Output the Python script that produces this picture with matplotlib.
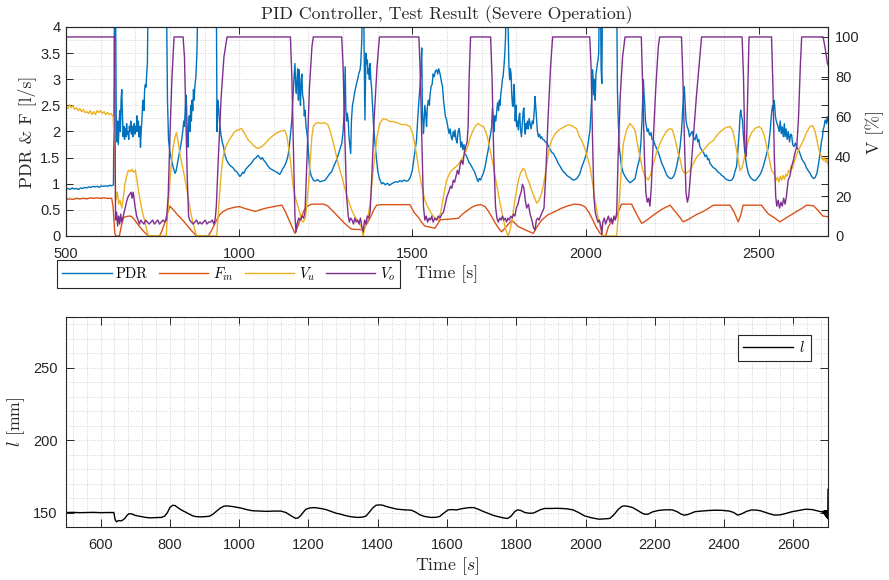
import matplotlib
matplotlib.use("Agg")
import matplotlib.pyplot as plt
from matplotlib.ticker import MultipleLocator
import numpy as np

plt.rcParams['font.family'] = ['Liberation Sans', 'DejaVu Sans']
plt.rcParams['mathtext.fontset'] = 'cm'

# ---- top panel data ----
# PDR [l/s]  (values above 4 are off the chart)
pdr_t = [500, 506, 512, 518, 524, 530, 536, 542, 548, 554, 560, 566, 572, 578, 584, 590, 596, 602, 608, 614,
         620, 626, 632, 637, 639, 640, 643, 645, 647, 649, 651, 653, 655, 657, 659, 661, 663, 665, 667, 669,
         671, 673, 675, 677, 679, 681, 683, 685, 687, 689, 691, 693, 695, 697, 699, 701, 703, 705, 707, 709,
         711, 713, 715, 717, 719, 721, 723, 725, 727, 729, 731, 733, 735, 737, 790, 793, 796, 800, 805, 810,
         815, 818, 822, 826, 830, 834, 837, 840, 842, 844, 846, 848, 850, 852, 854, 856, 858, 860, 862, 864,
         866, 868, 870, 872, 875, 878, 881, 934, 936, 938, 940, 943, 947, 951, 955, 959, 964, 968, 972, 978,
         983, 988, 993, 998, 1002, 1006, 1010, 1014, 1018, 1022, 1026, 1030, 1034, 1038, 1041, 1045, 1049, 1052, 1055, 1059,
         1063, 1067, 1071, 1075, 1079, 1084, 1088, 1092, 1098, 1103, 1108, 1113, 1117, 1121, 1125, 1130, 1135, 1139, 1142, 1146,
         1149, 1152, 1155, 1158, 1161, 1163, 1165, 1167, 1169, 1171, 1173, 1175, 1177, 1179, 1181, 1183, 1186, 1188, 1190, 1193,
         1197, 1200, 1204, 1208, 1214, 1220, 1226, 1233, 1240, 1248, 1254, 1260, 1267, 1274, 1281, 1288, 1296, 1300, 1303, 1306,
         1308, 1310, 1312, 1315, 1317, 1320, 1322, 1324, 1327, 1330, 1332, 1335, 1339, 1342, 1345, 1349, 1351, 1354, 1356, 1359,
         1361, 1363, 1365, 1366, 1368, 1370, 1372, 1374, 1376, 1378, 1380, 1382, 1385, 1388, 1392, 1396, 1400, 1404, 1408, 1411,
         1416, 1422, 1428, 1434, 1440, 1446, 1452, 1458, 1464, 1470, 1476, 1482, 1488, 1494, 1500, 1505, 1509, 1512, 1516, 1519,
         1522, 1524, 1527, 1529, 1532, 1534, 1536, 1539, 1541, 1543, 1546, 1549, 1551, 1554, 1557, 1560, 1563, 1566, 1570, 1573,
         1576, 1580, 1584, 1587, 1590, 1592, 1595, 1599, 1602, 1606, 1609, 1612, 1615, 1618, 1621, 1623, 1626, 1629, 1632, 1635,
         1637, 1640, 1643, 1646, 1649, 1652, 1655, 1658, 1661, 1664, 1667, 1671, 1675, 1678, 1681, 1685, 1688, 1690, 1693, 1697,
         1701, 1705, 1710, 1714, 1719, 1723, 1727, 1729, 1731, 1734, 1736, 1738, 1741, 1743, 1746, 1749, 1751, 1753, 1755, 1758,
         1760, 1762, 1765, 1767, 1769, 1771, 1775, 1777, 1779, 1781, 1783, 1785, 1787, 1789, 1791, 1793, 1795, 1797, 1799, 1801,
         1803, 1806, 1808, 1810, 1812, 1815, 1818, 1820, 1822, 1824, 1826, 1828, 1830, 1832, 1835, 1837, 1840, 1843, 1846, 1849,
         1852, 1854, 1856, 1858, 1861, 1864, 1867, 1870, 1873, 1876, 1880, 1884, 1888, 1893, 1898, 1903, 1907, 1912, 1916, 1921,
         1926, 1931, 1936, 1941, 1946, 1950, 1955, 1960, 1965, 1970, 1975, 1979, 1984, 1988, 1993, 1998, 2003, 2007, 2010, 2013,
         2015, 2017, 2019, 2020, 2022, 2024, 2026, 2028, 2030, 2032, 2034, 2036, 2038, 2040, 2043, 2045, 2047, 2049, 2090, 2092,
         2094, 2097, 2100, 2104, 2108, 2114, 2120, 2128, 2135, 2143, 2149, 2155, 2160, 2163, 2165, 2167, 2169, 2171, 2173, 2176,
         2178, 2181, 2184, 2186, 2189, 2192, 2196, 2200, 2205, 2210, 2215, 2220, 2225, 2230, 2234, 2240, 2245, 2249, 2254, 2258,
         2263, 2268, 2273, 2277, 2280, 2282, 2285, 2287, 2290, 2293, 2297, 2300, 2304, 2308, 2312, 2316, 2320, 2324, 2327, 2330,
         2334, 2338, 2342, 2345, 2349, 2353, 2356, 2359, 2363, 2367, 2371, 2374, 2378, 2383, 2388, 2393, 2398, 2403, 2407, 2412,
         2417, 2422, 2427, 2432, 2436, 2440, 2444, 2446, 2448, 2450, 2453, 2456, 2460, 2465, 2470, 2476, 2484, 2490, 2499, 2506,
         2513, 2520, 2528, 2533, 2537, 2540, 2542, 2544, 2546, 2548, 2550, 2553, 2556, 2559, 2562, 2565, 2568, 2571, 2574, 2576,
         2579, 2582, 2585, 2589, 2592, 2595, 2598, 2602, 2606, 2610, 2614, 2619, 2624, 2629, 2633, 2638, 2643, 2648, 2653, 2658,
         2663, 2668, 2672, 2677, 2681, 2684, 2686, 2689, 2691, 2693, 2696, 2698, 2700]
pdr_v = [0.90, 0.91, 0.89, 0.92, 0.90, 0.91, 0.89, 0.92, 0.91, 0.93, 0.92, 0.94, 0.93, 0.95, 0.94, 0.95, 0.93, 0.96, 0.95, 0.96,
         0.95, 0.97, 0.96, 0.98, 3.0, 4.6, 4.6, 2.3, 1.8, 2.2, 1.75, 2.1, 2.4, 2.0, 2.6, 2.8, 2.3, 1.9, 2.1, 1.85,
         2.05, 1.9, 2.15, 1.95, 2.0, 1.85, 2.1, 2.0, 2.2, 1.95, 2.1, 1.9, 2.0, 2.15, 1.95, 2.1, 2.0, 2.3, 2.0, 2.2,
         1.9, 2.1, 1.7, 2.0, 2.2, 2.5, 2.6, 2.4, 2.8, 2.9, 2.85, 3.1, 3.3, 4.6, 4.6, 2.6, 1.84, 1.6, 1.45, 1.3,
         1.2, 1.25, 1.4, 1.55, 1.7, 1.84, 2.0, 2.2, 2.1, 2.4, 2.7, 2.5, 2.0, 1.7, 2.1, 2.3, 2.0, 2.5, 2.2, 2.6,
         2.4, 2.8, 2.6, 2.86, 3.05, 3.5, 4.6, 4.6, 2.0, 2.6, 2.5, 2.2, 1.95, 1.8, 1.7, 1.55, 1.45, 1.4, 1.36, 1.33,
         1.3, 1.25, 1.23, 1.18, 1.14, 1.17, 1.22, 1.2, 1.27, 1.3, 1.33, 1.36, 1.38, 1.42, 1.45, 1.48, 1.5, 1.53, 1.54, 1.5,
         1.47, 1.5, 1.45, 1.42, 1.38, 1.33, 1.3, 1.28, 1.26, 1.24, 1.22, 1.2, 1.18, 1.22, 1.28, 1.33, 1.4, 1.48, 1.58, 1.8,
         2.0, 2.22, 2.6, 3.0, 3.3, 2.9, 2.73, 3.0, 3.2, 2.6, 3.18, 2.8, 2.5, 3.0, 3.1, 2.7, 2.6, 2.3, 2.41, 2.1,
         1.9, 1.6, 1.26, 1.15, 1.07, 1.05, 1.08, 1.04, 1.05, 1.07, 1.12, 1.18, 1.23, 1.35, 1.45, 1.6, 1.77, 2.0, 2.35, 3.24,
         2.4, 2.2, 2.35, 2.2, 1.9, 1.71, 1.58, 2.2, 2.5, 2.6, 2.7, 2.8, 2.92, 3.0, 3.1, 3.18, 3.3, 3.75, 4.6, 4.6,
         3.4, 2.22, 3.0, 3.5, 3.3, 3.37, 3.1, 3.2, 3.0, 3.3, 3.0, 2.86, 2.5, 2.1, 1.77, 1.5, 1.25, 1.12, 1.05, 1.0,
         1.02, 0.98, 1.01, 0.97, 1.0, 1.02, 1.04, 1.03, 1.06, 1.04, 1.07, 1.05, 1.06, 1.12, 1.26, 1.5, 1.7, 1.84, 2.3, 2.6,
         2.86, 3.1, 3.6, 2.4, 1.96, 2.2, 2.5, 2.3, 2.1, 2.45, 2.6, 2.5, 2.7, 2.86, 2.9, 3.1, 3.05, 3.15, 3.18, 3.1,
         3.2, 3.1, 2.95, 2.86, 2.6, 2.48, 2.3, 2.22, 2.1, 1.96, 2.05, 1.9, 1.84, 2.0, 1.9, 2.03, 1.85, 1.78, 2.0, 2.06,
         1.95, 1.7, 1.8, 1.65, 1.75, 1.58, 1.55, 1.5, 1.45, 1.4, 1.38, 1.33, 1.28, 1.25, 1.2, 1.12, 1.07, 1.04, 1.1, 1.07,
         1.14, 1.2, 1.33, 1.48, 1.65, 1.85, 2.0, 2.09, 2.45, 2.2, 2.0, 2.3, 2.2, 2.35, 2.55, 2.4, 2.6, 2.5, 2.7, 2.86,
         3.0, 3.05, 3.3, 3.5, 3.8, 4.6, 4.6, 3.8, 3.2, 2.99, 3.2, 3.1, 2.7, 2.5, 2.48, 2.9, 2.7, 2.2, 2.5, 2.1,
         2.2, 2.03, 2.3, 2.35, 2.05, 1.9, 2.2, 2.4, 2.45, 2.1, 1.95, 2.15, 2.05, 2.2, 2.05, 2.25, 2.15, 2.05, 2.2, 2.15,
         2.4, 2.67, 2.5, 2.3, 2.0, 1.9, 1.95, 1.87, 1.9, 1.85, 1.84, 1.8, 1.78, 1.72, 1.65, 1.6, 1.58, 1.52, 1.47, 1.39,
         1.34, 1.28, 1.23, 1.2, 1.16, 1.14, 1.12, 1.09, 1.07, 1.08, 1.1, 1.14, 1.2, 1.3, 1.39, 1.48, 1.58, 1.75, 1.9, 2.03,
         2.3, 2.54, 2.8, 3.18, 2.99, 2.7, 3.0, 2.6, 3.1, 3.18, 3.3, 3.37, 3.5, 4.6, 4.6, 3.2, 2.92, 4.6, 4.6, 2.8,
         2.3, 1.71, 1.55, 1.33, 1.22, 1.14, 1.08, 1.02, 1.05, 1.1, 1.3, 1.45, 1.8, 2.22, 2.6, 2.99, 2.7, 2.5, 2.2, 2.09,
         2.0, 2.05, 1.95, 1.93, 1.98, 1.85, 1.84, 1.75, 1.68, 1.6, 1.5, 1.39, 1.32, 1.24, 1.17, 1.12, 1.1, 1.1, 1.14, 1.2,
         1.33, 1.5, 1.71, 2.0, 2.35, 2.6, 2.86, 2.6, 2.22, 2.1, 2.03, 1.9, 1.96, 2.0, 1.88, 1.84, 1.95, 1.8, 1.85, 1.71,
         1.66, 1.62, 1.58, 1.52, 1.55, 1.46, 1.48, 1.39, 1.36, 1.32, 1.3, 1.29, 1.26, 1.22, 1.2, 1.16, 1.14, 1.1, 1.08, 1.07,
         1.06, 1.07, 1.12, 1.25, 1.33, 1.65, 2.03, 2.3, 2.41, 2.3, 2.22, 1.9, 1.58, 1.35, 1.2, 1.12, 1.07, 1.06, 1.13, 1.2,
         1.33, 1.5, 1.71, 2.0, 2.35, 2.5, 2.4, 2.6, 2.5, 2.3, 2.22, 2.15, 2.09, 2.0, 2.2, 1.96, 2.09, 1.9, 2.15, 1.9,
         2.05, 1.85, 2.0, 1.8, 1.95, 1.93, 1.75, 1.71, 1.78, 1.7, 1.66, 1.58, 1.48, 1.42, 1.39, 1.3, 1.25, 1.2, 1.14, 1.1,
         1.12, 1.2, 1.35, 1.58, 1.8, 1.9, 2.03, 2.1, 2.2, 2.22, 2.15, 2.28, 2.2]

# inlet flow F_in [l/s]
fin_t = [500, 510, 520, 530, 540, 550, 560, 570, 580, 590, 600, 610, 620, 632, 636, 639, 641, 644, 654, 660,
         666, 673, 680, 687, 693, 700, 708, 716, 724, 733, 740, 770, 777, 785, 792, 800, 810, 820, 830, 840,
         850, 860, 870, 877, 911, 918, 925, 935, 945, 954, 965, 980, 995, 1002, 1015, 1030, 1046, 1060, 1075, 1090,
         1105, 1123, 1133, 1143, 1153, 1161, 1170, 1180, 1188, 1195, 1205, 1214, 1243, 1255, 1267, 1277, 1286, 1296, 1305, 1315,
         1325, 1358, 1370, 1382, 1390, 1397, 1410, 1493, 1505, 1517, 1527, 1536, 1565, 1575, 1580, 1600, 1620, 1633, 1645, 1661,
         1674, 1686, 1698, 1710, 1720, 1729, 1740, 1750, 1758, 1770, 1787, 1797, 1806, 1825, 1849, 1860, 1873, 1890, 1912, 1930,
         1950, 1969, 1985, 1998, 2010, 2020, 2030, 2042, 2052, 2058, 2066, 2078, 2090, 2097, 2104, 2133, 2145, 2162, 2180, 2200,
         2220, 2244, 2255, 2265, 2282, 2300, 2320, 2340, 2355, 2369, 2417, 2428, 2441, 2448, 2455, 2508, 2518, 2528, 2545, 2561,
         2580, 2595, 2609, 2625, 2638, 2658, 2670, 2680, 2686, 2700]
fin_v = [0.70, 0.71, 0.70, 0.72, 0.71, 0.72, 0.71, 0.73, 0.72, 0.73, 0.72, 0.73, 0.72, 0.72, 0.55, 0.25, 0.05, 0.0, 0.0, 0.2,
         0.35, 0.37, 0.38, 0.38, 0.35, 0.29, 0.22, 0.15, 0.09, 0.03, 0.0, 0.0, 0.1, 0.25, 0.42, 0.57, 0.5, 0.42, 0.35, 0.28,
         0.2, 0.12, 0.05, 0.0, 0.0, 0.08, 0.17, 0.31, 0.42, 0.47, 0.51, 0.54, 0.56, 0.56, 0.53, 0.5, 0.47, 0.5, 0.53, 0.55,
         0.57, 0.59, 0.47, 0.32, 0.17, 0.05, 0.2, 0.38, 0.5, 0.56, 0.6, 0.61, 0.61, 0.58, 0.5, 0.43, 0.37, 0.3, 0.24, 0.18,
         0.13, 0.12, 0.25, 0.4, 0.52, 0.59, 0.6, 0.6, 0.45, 0.36, 0.26, 0.19, 0.15, 0.25, 0.31, 0.32, 0.33, 0.34, 0.42, 0.5,
         0.56, 0.59, 0.6, 0.56, 0.47, 0.37, 0.24, 0.14, 0.08, 0.17, 0.3, 0.24, 0.18, 0.12, 0.05, 0.18, 0.3, 0.4, 0.47, 0.53,
         0.58, 0.61, 0.6, 0.56, 0.45, 0.32, 0.18, 0.05, 0.0, 0.0, 0.18, 0.3, 0.37, 0.5, 0.61, 0.61, 0.45, 0.24, 0.32, 0.42,
         0.51, 0.59, 0.5, 0.42, 0.27, 0.33, 0.41, 0.47, 0.53, 0.59, 0.59, 0.47, 0.27, 0.4, 0.59, 0.59, 0.5, 0.42, 0.35, 0.27,
         0.35, 0.41, 0.47, 0.53, 0.59, 0.58, 0.5, 0.42, 0.38, 0.37]

# lower valve V_u [%]
vu_t = [500, 505, 510, 515, 520, 525, 530, 535, 540, 545, 550, 555, 560, 565, 570, 575, 580, 585, 590, 595,
        600, 605, 610, 615, 620, 625, 630, 636, 640, 644, 648, 652, 656, 661, 666, 670, 675, 680, 685, 690,
        695, 700, 705, 710, 716, 722, 728, 733, 738, 789, 795, 801, 808, 815, 819, 824, 830, 836, 842, 848,
        854, 860, 866, 872, 877, 935, 940, 945, 950, 955, 962, 970, 978, 985, 992, 1000, 1007, 1014, 1020, 1027,
        1034, 1041, 1048, 1055, 1060, 1066, 1072, 1080, 1088, 1095, 1102, 1110, 1118, 1125, 1132, 1138, 1143, 1148, 1152, 1156,
        1161, 1166, 1171, 1176, 1180, 1184, 1188, 1192, 1196, 1200, 1205, 1210, 1214, 1220, 1228, 1236, 1244, 1250, 1256, 1262,
        1270, 1277, 1286, 1296, 1305, 1315, 1325, 1334, 1344, 1352, 1356, 1358, 1361, 1365, 1372, 1378, 1385, 1392, 1398, 1406,
        1416, 1425, 1435, 1445, 1455, 1469, 1480, 1493, 1500, 1506, 1512, 1517, 1526, 1536, 1546, 1556, 1565, 1575, 1582, 1590,
        1599, 1606, 1613, 1620, 1627, 1633, 1640, 1646, 1652, 1660, 1667, 1675, 1683, 1690, 1698, 1705, 1712, 1719, 1727, 1734,
        1741, 1748, 1756, 1763, 1770, 1777, 1782, 1788, 1795, 1801, 1806, 1813, 1820, 1825, 1830, 1837, 1844, 1851, 1859, 1866,
        1873, 1880, 1888, 1895, 1902, 1911, 1921, 1930, 1940, 1950, 1960, 1968, 1974, 1982, 1989, 1998, 2008, 2013, 2020, 2027,
        2034, 2042, 2051, 2090, 2095, 2100, 2105, 2109, 2118, 2128, 2136, 2143, 2150, 2157, 2165, 2172, 2177, 2181, 2188, 2196,
        2205, 2215, 2225, 2235, 2244, 2250, 2255, 2262, 2268, 2273, 2280, 2287, 2294, 2302, 2310, 2321, 2333, 2345, 2357, 2369,
        2381, 2393, 2405, 2417, 2425, 2431, 2438, 2446, 2451, 2455, 2462, 2470, 2480, 2489, 2500, 2508, 2515, 2523, 2530, 2537,
        2545, 2550, 2554, 2558, 2562, 2566, 2570, 2574, 2578, 2582, 2586, 2590, 2594, 2598, 2602, 2605, 2612, 2620, 2629, 2638,
        2648, 2655, 2662, 2668, 2673, 2677, 2681, 2686, 2690, 2693, 2696, 2700]
vu_v = [65, 64, 66, 64.5, 65.5, 63.5, 64.5, 63, 64, 62.5, 63.5, 62, 62.5, 61.5, 63, 61, 62.5, 61, 63, 62,
        63, 61.5, 62.5, 61, 62, 61, 61.5, 60, 45, 18, 22, 16, 18, 14, 20, 26, 30, 33, 32.5, 33.5,
        32, 33, 28, 22, 16, 11, 7, 3, 0, 0, 15, 30, 43, 50, 52, 47, 40, 35, 30, 24,
        18, 12, 7, 3, 0, 0, 12, 25, 35, 41, 45, 48, 50, 52, 53, 53.5, 54, 52, 50, 48,
        47, 45.5, 44.5, 44, 44.5, 45, 46, 47.5, 49, 50, 51, 52, 52.5, 53, 53, 50, 44, 38, 31, 25,
        20, 17, 14, 11, 8, 7, 8, 10, 18, 25, 38, 50, 55, 56.5, 57, 56.5, 57, 56.5, 56, 53,
        48, 43, 36, 30, 24, 18, 13, 9.7, 7, 4.7, 2, 0, 3, 6, 10, 16, 30, 41, 50, 56.5,
        59, 58.5, 57.5, 57.5, 57, 56, 56, 55, 52, 47, 41, 35, 26, 18, 14, 11, 9, 8, 12, 20,
        28, 31, 33, 34, 35, 36, 38, 39.5, 41.5, 45, 49.5, 53, 55.5, 56.5, 55.5, 55, 52.5, 48, 41, 35,
        28, 21.4, 14, 8, 3, 0, 3, 8, 17, 23, 28, 32, 34, 33, 29.8, 27, 23, 20, 16.5, 18,
        21.4, 27, 36, 44, 48, 51, 53, 54, 55, 55.8, 55.5, 54.5, 54, 50, 48, 44, 38, 34.8, 27, 18,
        11, 4.7, 0, 0, 12, 25, 38, 46.5, 53, 56.5, 55, 53, 46, 40, 33, 29.8, 29, 28, 31, 36.5,
        42, 46.5, 50, 53, 54, 53.5, 51, 46, 41, 38.5, 33, 31.5, 32, 33, 36, 39.7, 42, 44, 46.5, 48,
        51, 53, 54.5, 55, 53, 48, 41, 33, 34, 36.5, 42, 48, 52, 54, 55, 54, 51, 45, 39, 33,
        31, 28, 29.5, 27, 30, 28, 30.5, 28.5, 31, 30, 33, 32, 35, 34, 37, 38.5, 42, 45, 48, 52,
        55, 55.5, 53, 48, 44, 41.5, 40, 38, 39.5, 37, 38.5, 36]

# upper valve V_o [%]
vo_t = [500, 640, 643, 646, 649, 652, 655, 658, 661, 664, 668, 672, 676, 680, 684, 688, 691, 694, 697, 700,
        704, 708, 712, 716, 720, 725, 730, 735, 740, 745, 750, 755, 760, 765, 770, 775, 780, 785, 790, 795,
        800, 806, 812, 838, 842, 846, 850, 854, 857, 862, 867, 872, 877, 882, 887, 892, 897, 902, 907, 912,
        917, 922, 927, 931, 934, 940, 948, 956, 965, 1148, 1152, 1157, 1161, 1164, 1167, 1172, 1177, 1182, 1186, 1190,
        1196, 1203, 1210, 1214, 1296, 1300, 1305, 1310, 1315, 1318, 1322, 1326, 1330, 1334, 1338, 1342, 1346, 1350, 1354, 1358,
        1362, 1366, 1370, 1374, 1378, 1383, 1390, 1398, 1405, 1519, 1523, 1528, 1532, 1536, 1540, 1544, 1548, 1552, 1556, 1560,
        1565, 1570, 1575, 1580, 1585, 1590, 1595, 1600, 1605, 1610, 1614, 1618, 1622, 1626, 1630, 1634, 1638, 1642, 1646, 1650,
        1654, 1658, 1661, 1664, 1668, 1726, 1730, 1735, 1740, 1744, 1748, 1752, 1756, 1760, 1764, 1768, 1772, 1776, 1780, 1784,
        1788, 1792, 1796, 1800, 1805, 1810, 1814, 1818, 1822, 1826, 1830, 1835, 1840, 1845, 1850, 1854, 1858, 1862, 1866, 1870,
        1875, 1880, 1885, 1892, 1899, 1905, 2012, 2016, 2020, 2024, 2028, 2032, 2036, 2040, 2044, 2047, 2050, 2054, 2058, 2062,
        2066, 2070, 2074, 2078, 2082, 2086, 2090, 2094, 2100, 2107, 2114, 2161, 2165, 2170, 2174, 2178, 2182, 2186, 2190, 2196,
        2203, 2210, 2214, 2277, 2281, 2286, 2290, 2294, 2298, 2305, 2320, 2335, 2452, 2456, 2460, 2464, 2468, 2472, 2537, 2541,
        2545, 2549, 2552, 2556, 2560, 2564, 2568, 2572, 2576, 2580, 2585, 2590, 2595, 2600, 2605, 2610, 2615, 2620, 2624, 2686,
        2690, 2694, 2698, 2700]
vo_v = [100, 100, 8, 12, 5, 10, 6, 11, 7, 9, 12, 15, 18, 20, 21, 22, 19, 22, 18, 14,
        10, 8, 6, 8, 7, 6, 8, 7, 6, 7, 8, 6, 7, 8, 6, 7, 8, 7, 8, 20,
        50, 80, 100, 100, 90, 60, 30, 10, 8, 7, 6, 7, 8, 6, 7, 6, 7, 8, 6, 7,
        7, 8, 6, 9, 15, 40, 70, 90, 100, 100, 80, 40, 10, 2, 6, 9, 8, 10, 9, 12,
        40, 75, 95, 100, 100, 85, 50, 20, 10, 7, 9, 8, 6, 9, 7, 8, 6, 9, 5, 2,
        8, 6, 10, 9, 12, 30, 60, 85, 100, 100, 80, 45, 15, 8, 10, 7, 9, 8, 10, 7,
        9, 8, 10, 9, 11, 12, 16, 20, 22, 25, 24, 28, 27, 30, 33, 31, 36, 38, 36, 42,
        45, 47, 55, 80, 100, 100, 80, 40, 15, 9, 7, 9, 8, 10, 8, 9, 7, 9, 8, 10,
        9, 11, 10, 14, 16, 20, 22, 26, 24, 18, 14, 16, 11, 8, 4, 3, 8, 9, 8, 10,
        12, 14, 30, 60, 85, 100, 100, 85, 50, 20, 12, 9, 7, 8, 5, 1, 7, 9, 6, 8,
        10, 7, 9, 6, 10, 8, 12, 40, 70, 90, 100, 100, 75, 40, 22, 17, 19, 15, 25, 50,
        75, 95, 100, 100, 80, 45, 22, 17, 20, 35, 70, 100, 100, 80, 45, 40, 70, 100, 100, 75,
        40, 20, 15, 18, 14, 17, 15, 19, 16, 20, 28, 30, 35, 38, 42, 45, 60, 85, 100, 100,
        96, 92, 87, 86]

# ---- bottom panel data: level l [mm] ----
l_t = [500, 520, 540, 560, 580, 600, 620, 638, 642, 646, 652, 658, 664, 670, 676, 682, 690, 700, 715, 730,
       745, 760, 775, 785, 793, 800, 808, 815, 825, 835, 845, 855, 865, 874, 890, 905, 915, 925, 935, 945,
       955, 964, 975, 985, 997, 1010, 1025, 1040, 1060, 1080, 1100, 1120, 1135, 1145, 1155, 1163, 1170, 1178, 1186, 1193,
       1205, 1218, 1235, 1251, 1265, 1280, 1292, 1305, 1320, 1341, 1355, 1366, 1375, 1385, 1395, 1405, 1415, 1423, 1435, 1456,
       1475, 1497, 1510, 1521, 1535, 1554, 1568, 1579, 1590, 1603, 1615, 1628, 1640, 1652, 1665, 1677, 1690, 1702, 1718, 1734,
       1750, 1765, 1775, 1785, 1795, 1803, 1812, 1825, 1837, 1849, 1860, 1870, 1882, 1900, 1915, 1931, 1948, 1964, 1980, 1997,
       2015, 2038, 2055, 2070, 2082, 2095, 2105, 2111, 2122, 2136, 2150, 2160, 2169, 2180, 2193, 2210, 2226, 2240, 2251, 2265,
       2275, 2284, 2295, 2305, 2316, 2335, 2355, 2374, 2395, 2415, 2428, 2439, 2450, 2465, 2480, 2495, 2505, 2520, 2533, 2546,
       2562, 2579, 2595, 2615, 2636, 2655, 2669, 2680, 2684, 2686, 2688, 2689, 2690, 2691, 2692, 2693, 2694, 2695, 2696, 2697,
       2698, 2699, 2699.5, 2700]
l_v = [150, 150.1, 149.9, 150, 150.1, 149.9, 150, 150, 145, 143.6, 144.5, 144.2, 144.8, 146, 148, 149.2, 149, 148, 147.3, 146.6,
       146.3, 146.5, 146.6, 147.5, 150, 153.5, 155, 154.8, 153, 151.5, 150.3, 149, 147.8, 147.2, 147, 147.2, 147.5, 149, 151, 153,
       154.3, 154.6, 154.3, 154, 153.4, 152.8, 151.8, 151.2, 151, 150.8, 151, 151, 150, 148.5, 147, 146, 146.2, 148, 150.5, 152.3,
       153.2, 153.4, 152.8, 152, 150.8, 149.5, 148.9, 148, 147.2, 146.6, 146.8, 147.5, 150, 153, 155, 155.3, 155, 154.3, 153.5, 152.3,
       151.9, 151.6, 150.2, 148.5, 147.3, 146.6, 146.7, 147.3, 149.5, 151.8, 152, 151.8, 152.5, 153, 153.4, 153.4, 152.3, 151, 149.5, 148,
       147, 146.2, 145.9, 147.5, 150.5, 151.8, 151.5, 150, 149.5, 149.6, 150.8, 152, 152.8, 152.8, 152.9, 152.8, 152.5, 151.8, 150, 147.7,
       146.5, 145.4, 145.6, 145.9, 148.5, 152.3, 154.2, 154.6, 154.3, 153.4, 151.5, 150, 148.9, 148.8, 150.4, 151.4, 151.8, 151.9, 151.8, 150.5,
       149, 148.2, 148.6, 149.5, 150.6, 151, 151.4, 151.6, 151.5, 151, 150, 148.2, 149, 150.8, 151.8, 151.6, 151.2, 150, 149, 148.2,
       148.4, 149.4, 150.5, 151.4, 152.3, 152, 151.2, 150.5, 150.8, 149.8, 151.0, 149.0, 151.2, 148.5, 151.3, 147.8, 151.2, 147.2, 151, 146.5,
       150.5, 145.8, 150, 166]

c_pdr = '#0072BD'
c_fin = '#D95319'
c_vu = '#EDB120'
c_vo = '#7E2F8E'
axcol = '#262626'
gridcol = '#d2d2d2'
serif = 'cmr10'
lab_fs = 12.8

fig = plt.figure(figsize=(8.89, 5.8), dpi=100)
ax1 = fig.add_axes([66/889, 1-236/580, 762/889, 209/580])
ax2 = ax1.twinx()

h1, = ax1.plot(pdr_t, pdr_v, color=c_pdr, lw=1.0, label='PDR')
h2, = ax1.plot(fin_t, fin_v, color=c_fin, lw=1.0, label=r'$F_{in}$')
h3, = ax2.plot(vu_t, vu_v, color=c_vu, lw=1.0, label=r'$V_u$')
h4, = ax2.plot(vo_t, vo_v, color=c_vo, lw=1.0, label=r'$V_o$')

ax1.set_xlim(500, 2700)
ax1.set_ylim(0, 4)
ax2.set_ylim(0, 105)
ax1.xaxis.set_major_locator(MultipleLocator(500))
ax1.xaxis.set_minor_locator(MultipleLocator(100))
ax1.yaxis.set_minor_locator(MultipleLocator(0.25))
ax2.yaxis.set_major_locator(MultipleLocator(20))
ax1.set_yticks([0, 0.5, 1, 1.5, 2, 2.5, 3, 3.5, 4])
ax1.set_yticklabels(['0', '0.5', '1', '1.5', '2', '2.5', '3', '3.5', '4'])
ax1.grid(which='both', linestyle=':', color=gridcol, linewidth=0.7)
ax1.tick_params(which='major', direction='in', top=True, right=True, length=5, width=0.7,
                colors=axcol, labelsize=10.5, pad=4)
ax1.tick_params(axis='x', pad=8)
ax1.tick_params(which='minor', length=0)
ax2.tick_params(which='major', direction='in', length=5, width=0.7, colors=axcol, labelsize=10.5, pad=5)
for ax in (ax1, ax2):
    for s in ax.spines.values():
        s.set_color(axcol)
        s.set_linewidth(0.8)

ax1.set_title('PID Controller, Test Result (Severe Operation)', fontsize=lab_fs, pad=6,
              color=axcol, family=serif)
ax1.set_ylabel('PDR & F [l/s]', fontsize=lab_fs, color=axcol, family=serif, labelpad=3)
ax2.set_ylabel('V [%]', fontsize=lab_fs, color=axcol, family=serif)
ax1.set_xlabel('Time [s]', fontsize=lab_fs, color=axcol, family=serif, labelpad=3)
leg = ax1.legend([h1, h2, h3, h4], [h.get_label() for h in (h1, h2, h3, h4)],
                 loc='upper left', bbox_to_anchor=(-0.012, -0.115), ncol=4,
                 prop={'family': serif, 'size': 10.5},
                 handlelength=3.4, columnspacing=0.75, handletextpad=0.3, borderpad=0.35,
                 borderaxespad=0, fancybox=False, edgecolor=axcol, framealpha=1)
leg.get_frame().set_linewidth(0.8)

# ---- bottom panel ----
ax3 = fig.add_axes([66/889, 1-527/580, 762/889, 210/580])
ax3.plot(l_t, l_v, color='black', lw=1.0, label=r'$l$')
ax3.set_xlim(500, 2700)
ax3.set_ylim(140, 285)
ax3.xaxis.set_major_locator(MultipleLocator(200))
ax3.xaxis.set_minor_locator(MultipleLocator(40))
ax3.yaxis.set_major_locator(MultipleLocator(50))
ax3.yaxis.set_minor_locator(MultipleLocator(10))
ax3.grid(which='both', linestyle=':', color=gridcol, linewidth=0.7)
ax3.tick_params(which='major', direction='in', top=True, right=True, length=6, width=0.7,
                colors=axcol, labelsize=10.5, pad=6)
ax3.tick_params(axis='x', pad=8)
ax3.tick_params(which='minor', length=0)
for s in ax3.spines.values():
    s.set_color(axcol)
    s.set_linewidth(0.8)
ax3.set_xlabel(r'Time [$s$]', fontsize=lab_fs, color=axcol, family=serif, labelpad=2)
ax3.set_ylabel(r'$l$ [mm]', fontsize=lab_fs, color=axcol, family=serif)
leg2 = ax3.legend(loc='upper right', fontsize=10.5, handlelength=3.4, handletextpad=0.4,
                  borderaxespad=1.2, borderpad=0.4, fancybox=False, edgecolor=axcol, framealpha=1)
leg2.get_frame().set_linewidth(0.8)

fig.savefig('out.png', dpi=100)
